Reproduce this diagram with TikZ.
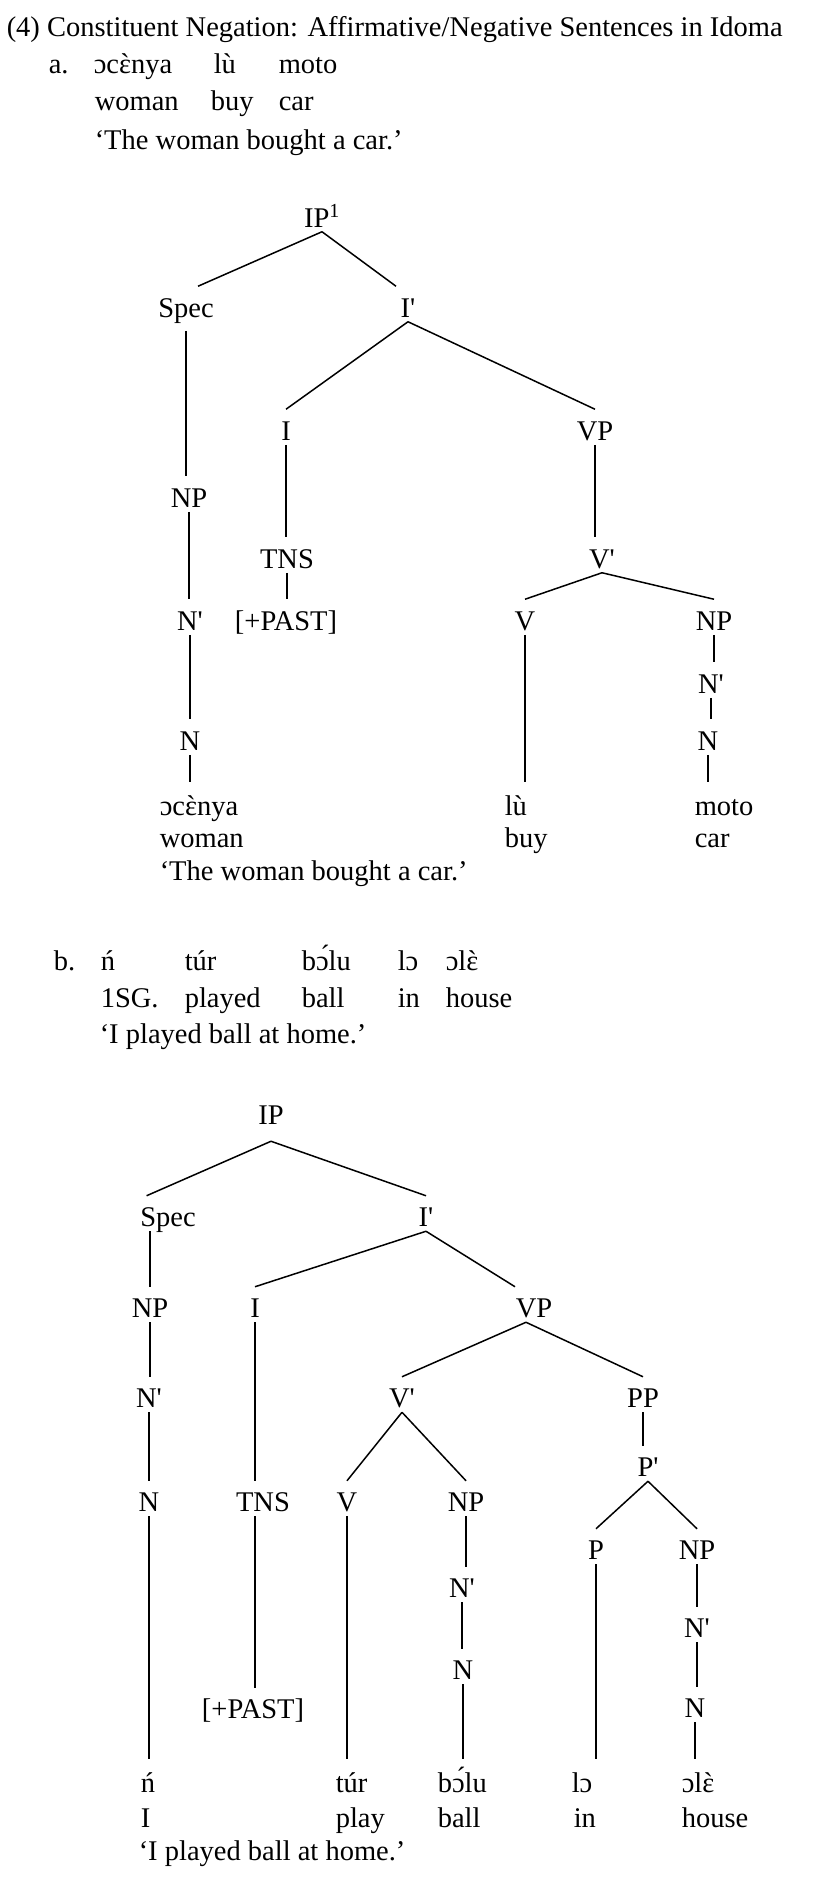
\documentclass[tikz,border=0pt]{standalone}
\usepackage{fontspec}
\setmainfont{Liberation Serif}
\usetikzlibrary{positioning}
\newcommand{\prm}{\textquotesingle}
\newcommand{\grv}[1]{\ifnum\XeTeXglyphindex "grave" >0
    \leavevmode\ooalign{#1\cr\hidewidth\XeTeXglyph\XeTeXglyphindex "grave" \relax\hidewidth\cr}%
  \else #1^^^^0300\fi}

\begin{document}
\begin{tikzpicture}[x=1pt, y=-1pt, line width=1.5pt,
    every node/.style={font=\fontsize{28.5}{34}\selectfont},
    cat/.style={anchor=base, inner sep=0pt, text height=30pt, text depth=4pt},
    wd/.style={anchor=base west, inner sep=0pt, text height=32pt}]
  \useasboundingbox (0,0) rectangle (827,1897);

  % heading and example a
  \node[wd] (title) at (6,37) {(4) Constituent Negation: Affirmative/Negative Sentences in Idoma};
  \node[wd] (la) at (48,74) {a.};
  \node[wd] (a1) at (93,74) {ɔc\grv{ɛ}nya};
  \node[wd] (a2) at (213,74) {lù};
  \node[wd] (a3) at (278,74) {moto};
  \node[wd] (ga1) at (94,111) {woman};
  \node[wd] (ga2) at (210,111) {buy};
  \node[wd] (ga3) at (278,111) {car};
  \node[wd] (tra) at (94,150) {`The woman bought a car.'};

  % tree a
  \node[cat] (ipa) at (322,227) {IP\textsuperscript{1}};
  \node[cat, text depth=13pt] (speca) at (186,317) {Spec};
  \node[cat] (ibara) at (408,317) {I\prm};
  \node[cat] (npa) at (189,507) {NP};
  \node[cat] (ia) at (286,440) {I};
  \node[cat] (vpa) at (595,440) {VP};
  \node[cat] (tnsa) at (287,568) {TNS};
  \node[cat] (vbara) at (602,568) {V\prm};
  \node[cat] (nbara) at (190,630) {N\prm};
  \node[cat] (pasta) at (286,630) {[+PAST]};
  \node[cat] (va) at (525,630) {V};
  \node[cat] (npa2) at (714,630) {NP};
  \node[cat] (nbara2) at (711,693) {N\prm};
  \node[cat] (na) at (190,750) {N};
  \node[cat] (na2) at (708,750) {N};
  \node[wd] (wa1) at (159,815) {ɔc\grv{ɛ}nya};
  \node[wd] (wa2) at (504,815) {lù};
  \node[wd] (wa3) at (694,815) {moto};
  \node[wd] (ea1) at (159,847) {woman};
  \node[wd] (ea2) at (504,847) {buy};
  \node[wd] (ea3) at (694,847) {car};
  \node[wd] (tra2) at (159,880) {`The woman bought a car.'};

  \draw (ipa.south) -- ([xshift=12pt]speca.north);
  \draw (ipa.south) -- ([xshift=-12pt]ibara.north);
  \draw (ibara.south) -- (ia.north);
  \draw (ibara.south) -- (vpa.north);
  \draw (speca.south) -- (speca.south |- npa.north);
  \draw (npa.south) -- (npa.south |- nbara.north);
  \draw (nbara.south) -- (nbara.south |- na.north);
  \draw (na.south) -- (na.south |- wa1.north);
  \draw (ia.south) -- (ia.south |- tnsa.north);
  \draw (tnsa.south) -- (tnsa.south |- pasta.north);
  \draw (vpa.south) -- (vpa.south |- vbara.north);
  \draw (vbara.south) -- (va.north);
  \draw (vbara.south) -- (npa2.north);
  \draw (va.south) -- (va.south |- wa2.north);
  \draw (npa2.south) -- (npa2.south |- nbara2.north);
  \draw (nbara2.south) -- (nbara2.south |- na2.north);
  \draw (na2.south) -- (na2.south |- wa3.north);

  % example b
  \node[wd] (lb) at (53,970) {b.};
  \node[wd] (b1) at (100,970) {ń};
  \node[wd] (b2) at (184,970) {túr};
  \node[wd] (b3) at (301,970) {bɔ́lu};
  \node[wd] (b4) at (397,970) {lɔ};
  \node[wd] (b5) at (445,970) {ɔl\grv{ɛ}};
  \node[wd] (gb1) at (100,1007) {1SG.};
  \node[wd] (gb2) at (184,1007) {played};
  \node[wd] (gb3) at (301,1007) {ball};
  \node[wd] (gb4) at (397,1007) {in};
  \node[wd] (gb5) at (445,1007) {house};
  \node[wd] (trb) at (99,1043) {`I played ball at home.'};

  % tree b
  \node[cat] (ipb) at (271,1124.5) {IP};
  \node[cat] (specb) at (168,1226.5) {Spec};
  \node[cat] (ibarb) at (426,1226.5) {I\prm};
  \node[cat] (npb) at (150,1317.5) {NP};
  \node[cat] (ib) at (255,1317.5) {I};
  \node[cat] (vpb) at (534,1317.5) {VP};
  \node[cat] (nbarb) at (149,1407.5) {N\prm};
  \node[cat] (vbarb) at (402,1407.5) {V\prm};
  \node[cat] (ppb) at (643,1407.5) {PP};
  \node[cat] (pbarb) at (648,1476.5) {P\prm};
  \node[cat] (nb) at (149,1511.5) {N};
  \node[cat] (tnsb) at (263,1511.5) {TNS};
  \node[cat] (vb) at (347,1511.5) {V};
  \node[cat] (npb2) at (466,1511.5) {NP};
  \node[cat] (pb) at (596,1559.5) {P};
  \node[cat] (npb3) at (697,1559.5) {NP};
  \node[cat] (nbarb2) at (462,1597.5) {N\prm};
  \node[cat] (nbarb3) at (697,1637.5) {N\prm};
  \node[cat] (nb2) at (463,1679.5) {N};
  \node[cat] (nb3) at (695,1717.5) {N};
  \node[cat] (pastb) at (253,1718.5) {[+PAST]};
  \node[wd] (wb1) at (140,1792) {ń};
  \node[wd] (wb2) at (335,1792) {túr};
  \node[wd] (wb3) at (437,1792) {bɔ́lu};
  \node[wd] (wb4) at (571,1792) {lɔ};
  \node[wd] (wb5) at (681,1792) {ɔl\grv{ɛ}};
  \node[wd] (eb1) at (140,1827) {I};
  \node[wd] (eb2) at (335,1827) {play};
  \node[wd] (eb3) at (437,1827) {ball};
  \node[wd] (eb4) at (573,1827) {in};
  \node[wd] (eb5) at (681,1827) {house};
  \node[wd] (trb2) at (138,1860) {`I played ball at home.'};

  \draw ([yshift=-12pt]ipb.south) -- ([xshift=7pt]specb.north west);
  \draw ([yshift=-12pt]ipb.south) -- (ibarb.north);
  \draw (ibarb.south) -- (ib.north);
  \draw (ibarb.south) -- (vpb.north west);
  \draw (npb.north |- specb.south) -- (npb.north);
  \draw (npb.south) -- (npb.south |- nbarb.north);
  \draw (nbarb.south) -- (nbarb.south |- nb.north);
  \draw (nb.south) -- (nb.south |- wb1.north);
  \draw (ib.south) -- (ib.south |- tnsb.north);
  \draw (ib.south |- tnsb.south) -- (ib.south |- pastb.north);
  \draw ([xshift=-8pt]vpb.south) -- (vbarb.north);
  \draw ([xshift=-8pt]vpb.south) -- (ppb.north);
  \draw (vbarb.south) -- (vb.north);
  \draw (vbarb.south) -- (npb2.north);
  \draw (vb.south) -- (vb.south |- wb2.north);
  \draw (npb2.south) -- (npb2.south |- nbarb2.north);
  \draw (nbarb2.south) -- (nbarb2.south |- nb2.north);
  \draw (nb2.south) -- (nb2.south |- wb3.north);
  \draw (ppb.south) -- (ppb.south |- pbarb.north);
  \draw (pbarb.south) -- (pb.north);
  \draw (pbarb.south) -- (npb3.north);
  \draw (pb.south) -- (pb.south |- wb4.north);
  \draw (npb3.south) -- (npb3.south |- nbarb3.north);
  \draw (nbarb3.south) -- (nbarb3.south |- nb3.north);
  \draw (nb3.south) -- (nb3.south |- wb5.north);
\end{tikzpicture}
\end{document}
